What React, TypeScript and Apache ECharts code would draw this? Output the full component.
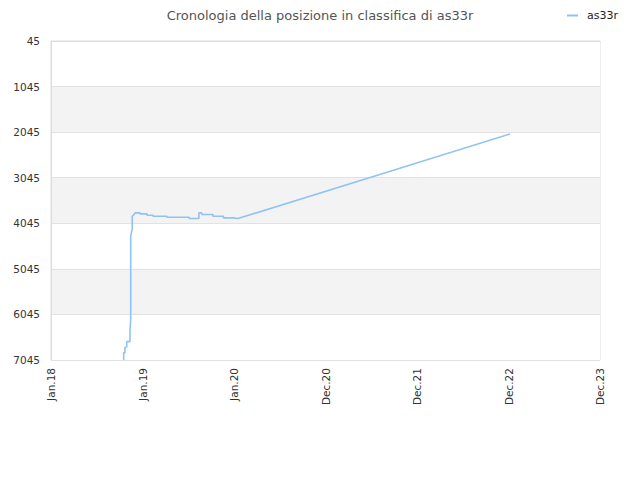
import React, { useEffect, useRef } from 'react';
import * as echarts from 'echarts';

// posizione in classifica nel tempo (step tracciati con punti doppi)
const dates: string[] = [
    '2018-10-18', '2018-10-18', '2018-10-23', '2018-10-23', '2018-10-30', '2018-10-30',
    '2018-11-12', '2018-11-12', '2018-11-15', '2018-11-15', '2018-11-21', '2018-11-21',
    '2018-11-28', '2018-12-02', '2018-12-22', '2018-12-22', '2019-01-19', '2019-01-19',
    '2019-02-12', '2019-02-12', '2019-04-09', '2019-04-09', '2019-07-06', '2019-07-06',
    '2019-08-14', '2019-08-14', '2019-08-25', '2019-08-26', '2019-10-09', '2019-10-09',
    '2019-11-20', '2019-11-20', '2019-12-28', '2019-12-28', '2020-01-17', '2023-01-06',
];
const ranks: number[] = [
    7045, 6884, 6884, 6766, 6759, 6642,
    6642, 6400, 6165, 4331, 4161, 3891,
    3853, 3816, 3816, 3838, 3838, 3869,
    3869, 3891, 3891, 3913, 3913, 3941,
    3941, 3816, 3816, 3853, 3853, 3891,
    3891, 3926, 3926, 3941, 3941, 2086,
];
const yTicks: number[] = [45, 1045, 2045, 3045, 4045, 5045, 6045, 7045];
const seriesName = 'as33r';
const titleText = 'Cronologia della posizione in classifica di as33r';

const MONTHS = ['Jan', 'Feb', 'Mar', 'Apr', 'May', 'Jun', 'Jul', 'Aug', 'Sep', 'Oct', 'Nov', 'Dec'];
const DAY = 86400000;
const BASE = Date.UTC(2018, 0, 1);
const Y_OFF = yTicks[0];

function toDays(s: string) {
    const [y, m, d] = s.split('-').map(Number);
    return (Date.UTC(y, m - 1, d) - BASE) / DAY;
}

function fmtDay(v: number) {
    const d = new Date(BASE + v * DAY);
    return MONTHS[d.getUTCMonth()] + '.' + String(d.getUTCFullYear()).slice(2);
}

const font = 'DejaVu Sans';

export default function App() {
    const chartRef = useRef<HTMLDivElement>(null);
    useEffect(() => {
        if (!chartRef.current) return;
        const chart = echarts.init(chartRef.current, undefined, { renderer: 'svg' });
        const data = dates.map((d, i) => [toDays(d), ranks[i] - Y_OFF]);
        chart.setOption({
            animation: false,
            textStyle: { fontFamily: font },
            title: {
                text: titleText,
                left: 'center',
                top: 4,
                textStyle: { fontFamily: font, fontSize: 13, fontWeight: 'normal', color: '#555' },
            },
            legend: {
                right: 17,
                top: 5,
                icon: 'rect',
                itemWidth: 11,
                itemHeight: 2,
                itemGap: 8,
                textStyle: { fontFamily: font, fontSize: 11, color: '#222', padding: [0, 0, 0, 4] },
                data: [seriesName],
            },
            grid: {
                left: 51, right: 40, top: 41, bottom: 120,
                show: true, borderColor: '#ddd', borderWidth: 1,
            },
            xAxis: {
                type: 'value',
                min: 0,
                max: 2190,
                interval: 365,
                axisLine: { show: true, lineStyle: { color: '#ddd' } },
                axisTick: { show: false },
                splitLine: { show: false },
                axisLabel: {
                    rotate: 90,
                    margin: 8,
                    fontSize: 10.5,
                    color: '#333',
                    fontFamily: font,
                    formatter: (v: number) => fmtDay(v),
                },
            },
            yAxis: {
                type: 'value',
                inverse: true,
                min: 0,
                max: yTicks[yTicks.length - 1] - Y_OFF,
                interval: 1000,
                axisLine: { show: true, lineStyle: { color: '#ddd' } },
                axisTick: { show: false },
                splitLine: { show: true, lineStyle: { color: '#e2e2e2' } },
                splitArea: { show: true, areaStyle: { color: ['#ffffff', '#f3f3f3'] } },
                axisLabel: {
                    margin: 11,
                    fontSize: 10.5,
                    color: '#333',
                    fontFamily: font,
                    formatter: (v: number) => String(v + Y_OFF),
                },
            },
            series: [
                {
                    name: seriesName,
                    type: 'line',
                    data,
                    showSymbol: false,
                    symbol: 'none',
                    color: '#90c3f3',
                    lineStyle: { width: 1.6, color: '#90c3f3' },
                },
            ],
        });
        return () => {
            chart.dispose();
        };
    }, []);

    return <div ref={chartRef} style={{ width: 640, height: 480, margin: -8 }} />;
}
